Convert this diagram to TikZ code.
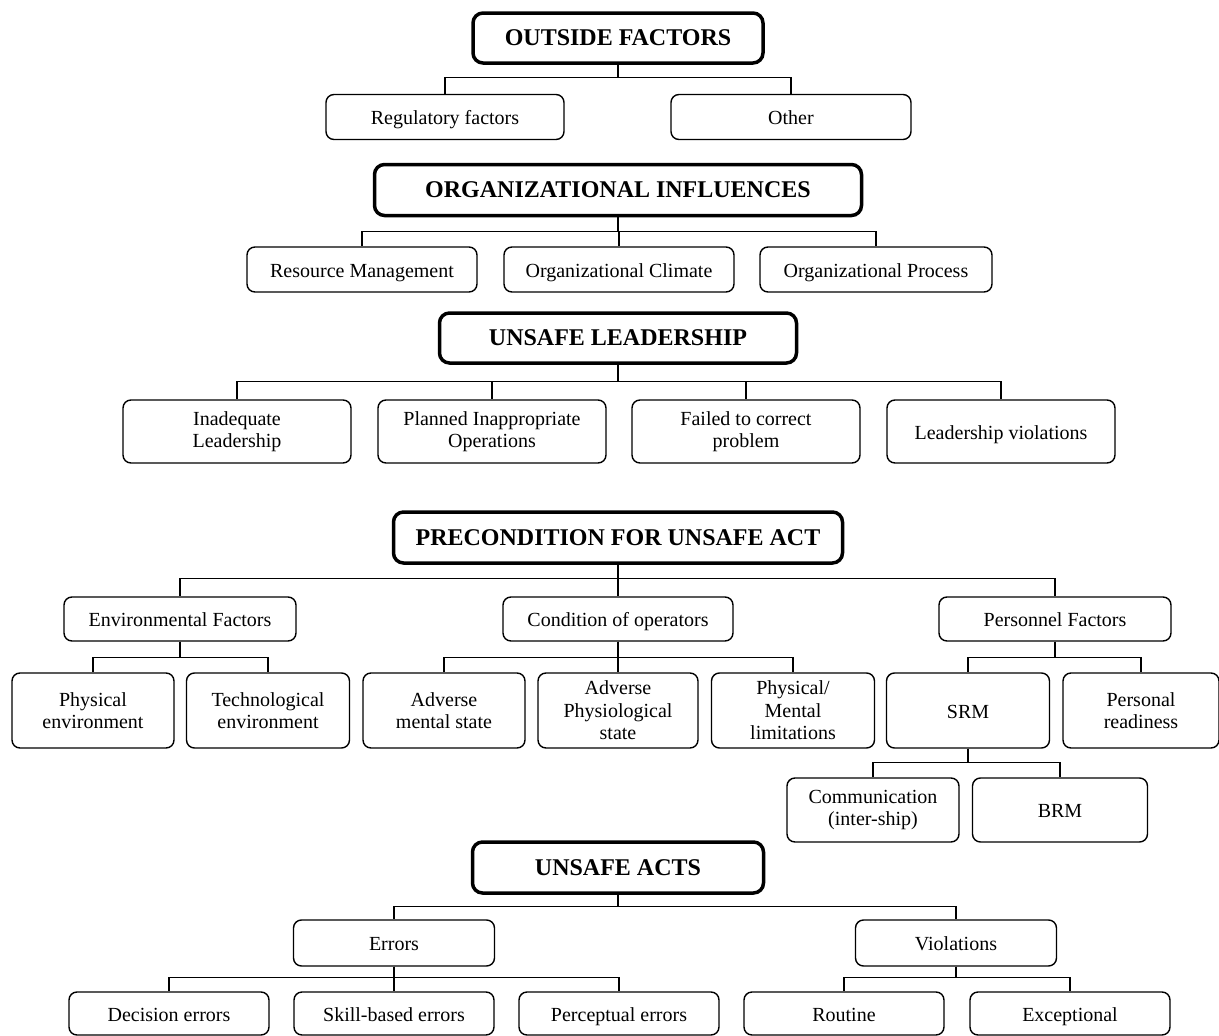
\documentclass[tikz,border=0pt]{standalone}
\usepackage{fontspec}
\setmainfont{Liberation Serif}
\tikzstyle{head}=[draw,line width=3.5pt,rounded corners=10pt,inner sep=0pt,font=\fontsize{24}{28}\selectfont\bfseries]
\tikzstyle{box}=[draw,line width=1.4pt,rounded corners=8pt,inner sep=0pt,align=center,font=\fontsize{20}{22.5}\selectfont]
\tikzstyle{one}=[box,text height=15pt,text depth=0pt]
\tikzstyle{link}=[draw,line width=1.4pt]

\begin{document}
\begin{tikzpicture}[x=1pt,y=-1pt]
\useasboundingbox (0,0) rectangle (1219,1036);

% outside factors
\node[head,minimum width=290pt,minimum height=50pt] (OF) at (618,38) {OUTSIDE FACTORS};
\node[one,minimum width=238pt,minimum height=45pt] (RF) at (445,117) {Regulatory factors};
\node[one,minimum width=240pt,minimum height=45pt] (OT) at (791,117) {Other};
\foreach \c in {RF,OT} \path[link] (OF.south) -- ++(0,13) -| (\c.north);

% organizational influences
\node[head,minimum width=487pt,minimum height=51pt] (OI) at (618,190) {ORGANIZATIONAL INFLUENCES};
\node[one,minimum width=230pt,minimum height=45pt] (RM) at (362,269.5) {Resource Management};
\node[one,minimum width=230pt,minimum height=45pt] (OC) at (619,269.5) {Organizational Climate};
\node[one,minimum width=232pt,minimum height=45pt] (OP) at (876,269.5) {Organizational Process};
\foreach \c in {RM,OC,OP} \path[link] (OI.south) -- ++(0,14) -| (\c.north);

% unsafe leadership
\node[head,minimum width=357pt,minimum height=50pt] (UL) at (618,338) {UNSAFE LEADERSHIP};
\node[box,minimum width=228pt,minimum height=63pt] (IL) at (237,431.5) {Inadequate\\Leadership};
\node[box,minimum width=228pt,minimum height=63pt] (PI) at (492,431.5) {Planned Inappropriate\\Operations};
\node[box,minimum width=228pt,minimum height=63pt] (FC) at (746,431.5) {Failed to correct\\problem};
\node[one,minimum width=228pt,minimum height=63pt] (LV) at (1001,431.5) {Leadership violations};
\foreach \c in {IL,PI,FC,LV} \path[link] (UL.south) -- ++(0,17) -| (\c.north);

% preconditions
\node[head,minimum width=449pt,minimum height=51pt] (PC) at (618,537.5) {PRECONDITION FOR UNSAFE ACT};
\node[one,minimum width=232pt,minimum height=44pt] (EF) at (180,619) {Environmental Factors};
\node[one,minimum width=230pt,minimum height=44pt] (CO) at (618,619) {Condition of operators};
\node[one,minimum width=232pt,minimum height=44pt] (PF) at (1055,619) {Personnel Factors};
\foreach \c in {EF,CO,PF} \path[link] (PC.south) -- ++(0,14) -| (\c.north);

\node[box,minimum width=162pt,minimum height=75pt] (PE) at (93,710.5) {Physical\\environment};
\node[box,minimum width=163pt,minimum height=75pt] (TE) at (268,710.5) {Technological\\environment};
\foreach \c in {PE,TE} \path[link] (EF.south) -- ++(0,16) -| (\c.north);

\node[box,minimum width=162pt,minimum height=75pt] (AM) at (444,710.5) {Adverse\\mental state};
\node[box,minimum width=160pt,minimum height=75pt] (AP) at (618,710.5) {Adverse\\Physiological\\state};
\node[box,minimum width=163pt,minimum height=75pt] (PM) at (793,710.5) {Physical/\\Mental\\limitations};
\foreach \c in {AM,AP,PM} \path[link] (CO.south) -- ++(0,16) -| (\c.north);

\node[one,minimum width=163pt,minimum height=75pt] (SRM) at (968,710.5) {SRM};
\node[box,minimum width=156pt,minimum height=75pt] (PR) at (1141,710.5) {Personal\\readiness};
\foreach \c in {SRM,PR} \path[link] (PF.south) -- ++(0,16) -| (\c.north);

\node[box,minimum width=172pt,minimum height=64pt] (CM) at (873,810) {Communication\\(inter-ship)};
\node[one,minimum width=175pt,minimum height=64pt] (BRM) at (1060,810) {BRM};
\foreach \c in {CM,BRM} \path[link] (SRM.south) -- ++(0,14) -| (\c.north);

% unsafe acts
\node[head,minimum width=291pt,minimum height=51pt] (UA) at (618,867.5) {UNSAFE ACTS};
\node[one,minimum width=201pt,minimum height=46pt] (ER) at (394,943) {Errors};
\node[one,minimum width=201pt,minimum height=46pt] (VI) at (956,943) {Violations};
\foreach \c in {ER,VI} \path[link] (UA.south) -- ++(0,12) -| (\c.north);

\node[one,minimum width=200pt,minimum height=43pt] (DE) at (169,1013.5) {Decision errors};
\node[one,minimum width=200pt,minimum height=43pt] (SB) at (394,1013.5) {Skill-based errors};
\node[one,minimum width=200pt,minimum height=43pt] (PCE) at (619,1013.5) {Perceptual errors};
\foreach \c in {DE,SB,PCE} \path[link] (ER.south) -- ++(0,11) -| (\c.north);

\node[one,minimum width=200pt,minimum height=43pt] (RO) at (844,1013.5) {Routine};
\node[one,minimum width=200pt,minimum height=43pt] (EX) at (1070,1013.5) {Exceptional};
\foreach \c in {RO,EX} \path[link] (VI.south) -- ++(0,11) -| (\c.north);
\end{tikzpicture}
\end{document}
